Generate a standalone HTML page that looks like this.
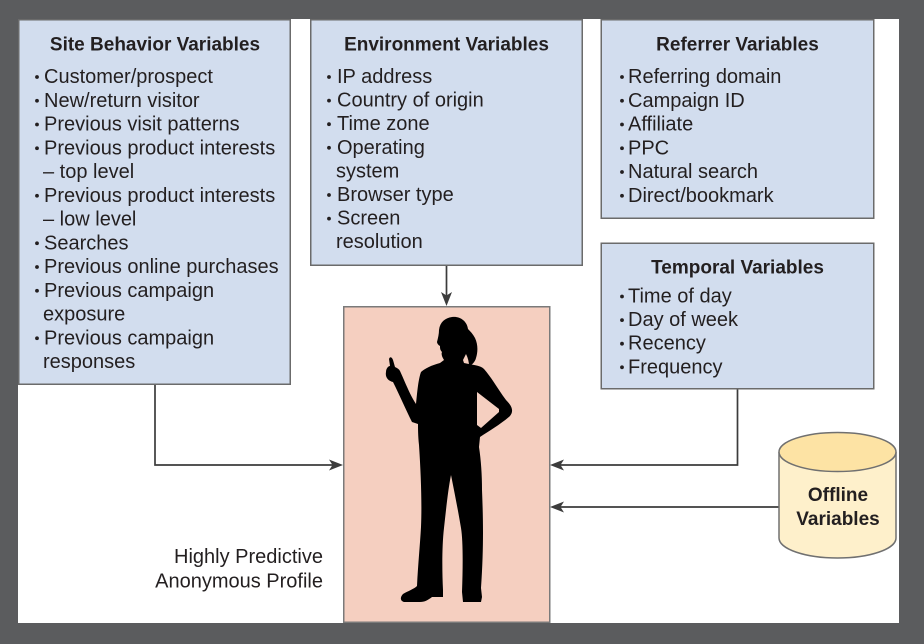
<!DOCTYPE html>
<html>
<head>
<meta charset="utf-8">
<style>
  html,body{margin:0;padding:0;background:#5b5c5e;}
  svg{display:block;}
  text{font-family:"Liberation Sans",sans-serif;fill:#231f20;}
  .t{font-size:19px;font-weight:bold;text-anchor:middle;}
  .i{font-size:20px;}
</style>
</head>
<body>
<svg width="924" height="644" viewBox="0 0 924 644" xmlns="http://www.w3.org/2000/svg">
  <rect x="0" y="0" width="924" height="644" fill="#5b5c5e"/>
  <rect x="18" y="19" width="881" height="604" fill="#ffffff"/>

  <!-- connectors -->
  <g stroke="#3c3c3c" stroke-width="1.7" fill="none">
    <path d="M155,384 V465 H333"/>
    <path d="M446.5,265 V296"/>
    <path d="M737.5,389 V465 H560"/>
    <path d="M779,507 H560"/>
  </g>
  <g fill="#3c3c3c">
    <path d="M343,465 L329,459.5 L332.5,465 L329,470.5 Z"/>
    <path d="M446.5,306 L441,292 L446.5,295.5 L452,292 Z"/>
    <path d="M550,465 L564,459.5 L560.5,465 L564,470.5 Z"/>
    <path d="M550,507 L564,501.5 L560.5,507 L564,512.5 Z"/>
  </g>

  <!-- boxes -->
  <g fill="#d2ddee" stroke="#6b6b6b" stroke-width="1.5">
    <rect x="18.75" y="19.75" width="271.5" height="364.5"/>
    <rect x="310.75" y="19.75" width="271.5" height="245.5"/>
    <rect x="601.25" y="19.75" width="272.5" height="198.5"/>
    <rect x="601.25" y="243.25" width="272.5" height="145.5"/>
  </g>

  <!-- pink profile box -->
  <rect x="343.75" y="306.75" width="206" height="315.5" fill="#f5cfc0" stroke="#7a7a7a" stroke-width="1.5"/>

  <!-- silhouette -->
  <path fill="#000" d="M452,317
    C460,316 467,321 468,329
    C470,331 473,334 475,338
    C478,344 478,352 476,358
    C475,362 472,365 469,366
    C469,362 468,358 466,354
    C465,356 464,358 463,360
    L464,363
    C472,365 480,365 484,369
    C492,378 499,391 506,400
    C512,406 514,411 510,416
    C501,424 489,431 480,437
    L479,447
    C481,460 482,475 482,490
    C483,515 484,545 481,588
    L482,597 L481,602 L463,602 L462,592
    C463,565 463,540 461,528
    C458,510 454,490 451,475
    C448,490 446,510 444,528
    C442,545 442,570 443,590
    L443,597 L432,597
    C428,600 425,602 420,602
    L404,602
    C400,601 400,597 403,594
    C408,591 414,589 417,586
    C418,565 420,545 421,527
    C422,505 421,475 419,445
    C418,436 418,428 418,424
    L412,422
    C406,410 399,394 393,382
    C388,381 385,377 386,372
    C386,369 388,366 390,366
    L389,359
    C390,356 392,357 393,360
    L395,367
    C397,368 399,369 400,371
    C405,382 410,395 416,404
    C417,395 418,380 421,372
    C424,369 432,365 440,363
    L444,360
    C442,357 441,354 442,352
    C440,350 440,348 440,346
    C438,345 437,343 437,342
    C438,338 439,334 439,330
    C440,322 445,318 452,317 Z"/>
  <polygon fill="#f5cfc0" points="477,392 499,409 499,412 481,428 477,425"/>

  <!-- cylinder -->
  <g stroke="#707070" stroke-width="1.5">
    <path d="M779,452 V538 A58.5,20 0 0 0 896,538 V452" fill="#fef0cb"/>
    <ellipse cx="837.5" cy="452" rx="58.5" ry="19.5" fill="#fde3a4"/>
  </g>
  <text class="t" x="838" y="501">Offline</text>
  <text class="t" x="838" y="525">Variables</text>

  <!-- Site behavior -->
  <text class="t" x="155" y="50.5">Site Behavior Variables</text>
  <g fill="#231f20">
    <circle cx="37" cy="77" r="1.9"/>
    <circle cx="37" cy="100.75" r="1.9"/>
    <circle cx="37" cy="124.5" r="1.9"/>
    <circle cx="37" cy="148.25" r="1.9"/>
    <circle cx="37" cy="195.75" r="1.9"/>
    <circle cx="37" cy="243.25" r="1.9"/>
    <circle cx="37" cy="267" r="1.9"/>
    <circle cx="37" cy="290.75" r="1.9"/>
    <circle cx="37" cy="338.25" r="1.9"/>
  </g>
  <text class="i" x="44" y="83">Customer/prospect</text>
  <text class="i" x="44" y="106.75">New/return visitor</text>
  <text class="i" x="44" y="130.5">Previous visit patterns</text>
  <text class="i" x="44" y="154.25">Previous product interests</text>
  <text class="i" x="43" y="178">– top level</text>
  <text class="i" x="44" y="201.75">Previous product interests</text>
  <text class="i" x="43" y="225.5">– low level</text>
  <text class="i" x="44" y="249.25">Searches</text>
  <text class="i" x="44" y="273">Previous online purchases</text>
  <text class="i" x="44" y="296.75">Previous campaign</text>
  <text class="i" x="43" y="320.5">exposure</text>
  <text class="i" x="44" y="344.25">Previous campaign</text>
  <text class="i" x="43" y="368">responses</text>

  <!-- Environment -->
  <text class="t" x="446.5" y="50.5">Environment Variables</text>
  <g fill="#231f20">
    <circle cx="329" cy="77" r="1.9"/>
    <circle cx="329" cy="100.6" r="1.9"/>
    <circle cx="329" cy="124.2" r="1.9"/>
    <circle cx="329" cy="147.8" r="1.9"/>
    <circle cx="329" cy="195" r="1.9"/>
    <circle cx="329" cy="218.6" r="1.9"/>
  </g>
  <text class="i" x="337" y="83">IP address</text>
  <text class="i" x="337" y="106.6">Country of origin</text>
  <text class="i" x="337" y="130.2">Time zone</text>
  <text class="i" x="337" y="153.8">Operating</text>
  <text class="i" x="336" y="177.4">system</text>
  <text class="i" x="337" y="201">Browser type</text>
  <text class="i" x="337" y="224.6">Screen</text>
  <text class="i" x="336" y="248.2">resolution</text>

  <!-- Referrer -->
  <text class="t" x="737.5" y="50.5">Referrer Variables</text>
  <g fill="#231f20">
    <circle cx="622" cy="77" r="1.9"/>
    <circle cx="622" cy="100.75" r="1.9"/>
    <circle cx="622" cy="124.5" r="1.9"/>
    <circle cx="622" cy="148.25" r="1.9"/>
    <circle cx="622" cy="172" r="1.9"/>
    <circle cx="622" cy="195.75" r="1.9"/>
  </g>
  <text class="i" x="628" y="83">Referring domain</text>
  <text class="i" x="628" y="106.75">Campaign ID</text>
  <text class="i" x="628" y="130.5">Affiliate</text>
  <text class="i" x="628" y="154.25">PPC</text>
  <text class="i" x="628" y="178">Natural search</text>
  <text class="i" x="628" y="201.75">Direct/bookmark</text>

  <!-- Temporal -->
  <text class="t" x="737.5" y="273.5">Temporal Variables</text>
  <g fill="#231f20">
    <circle cx="622" cy="296.5" r="1.9"/>
    <circle cx="622" cy="320.1" r="1.9"/>
    <circle cx="622" cy="343.7" r="1.9"/>
    <circle cx="622" cy="367.3" r="1.9"/>
  </g>
  <text class="i" x="628" y="302.5">Time of day</text>
  <text class="i" x="628" y="326.1">Day of week</text>
  <text class="i" x="628" y="349.7">Recency</text>
  <text class="i" x="628" y="373.3">Frequency</text>

  <!-- profile label -->
  <text class="i" x="323" y="563" text-anchor="end">Highly Predictive</text>
  <text class="i" x="323" y="587.5" text-anchor="end">Anonymous Profile</text>
</svg>
</body>
</html>
